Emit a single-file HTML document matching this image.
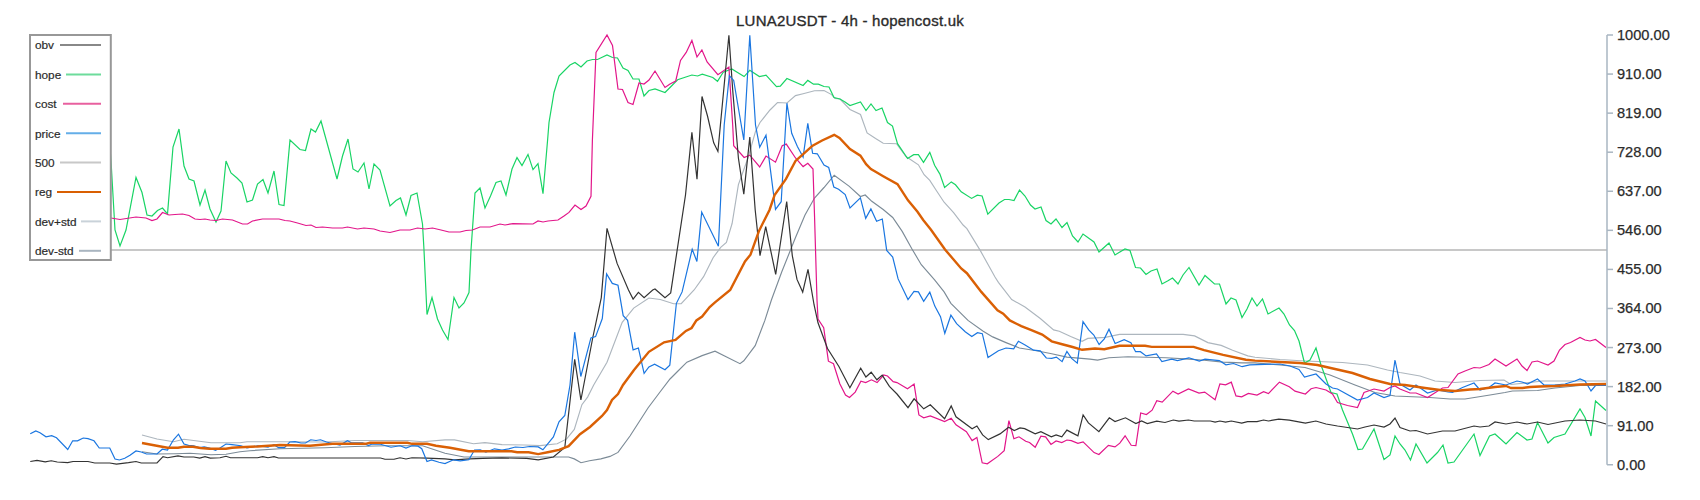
<!DOCTYPE html>
<html><head><meta charset="utf-8"><title>LUNA2USDT - 4h - hopencost.uk</title>
<style>html,body{margin:0;padding:0;background:#fff;width:1700px;height:500px;overflow:hidden}svg{display:block}</style>
</head><body>
<svg width="1700" height="500" viewBox="0 0 1700 500">
<rect width="1700" height="500" fill="#fff"/>
<line x1="30" y1="250" x2="1607" y2="250" stroke="#c8c8c8" stroke-width="2"/>
<g fill="none" stroke-linejoin="miter">
<polyline points="142,435 157,439 173.5,441.7 184,439.3 211,442.75 240,442.75 247,441.7 280,441.7 325,442 355,440.5 407.5,440.5 422.5,441.7 445,439.9 454.5,439.9 473.5,443.7 484.9,442.7 502,444.6 524.8,445 540,445.6 557.2,443.7 566.7,438.9 574.3,429.4 581.9,404.7 587.6,397.1 593.7,385 607,362.2 622.2,322.3 633.7,308.1 648.9,298 660.3,299.5 673.6,303.7 681.2,303.7 694.1,290 703.6,276.7 713.1,257.7 720.7,247.3 726.4,242.5 732.1,223.5 738.4,184.6 748,158 755.5,131.4 760,122.5 770,110 777.5,102.5 787,103 795.5,95.6 803.1,93.7 814.5,90.8 824,90.5 831.6,94.6 835,98.4 840,99 850,109.5 860.5,114.5 867.1,132.9 875.6,138.6 883.2,143.3 896.5,143.7 906,156.6 918.4,164.8 924.1,174.7 929.8,180.4 936.5,190.8 944.1,202.2 953.6,212.7 963.1,225 966.9,228.6 980.2,250.4 995,277 998.4,282.4 1011.7,299.5 1025,307.1 1040.3,318.5 1053.6,329.9 1059.3,331.2 1070.7,336.5 1082.1,341.3 1087.8,338.4 1105.2,337.4 1119.5,334.4 1183.2,334.4 1194.6,335.9 1207.9,342.6 1221.2,345.4 1232.6,350.2 1247.8,355.9 1255,357.2 1280,359.5 1305,361 1342.5,362.5 1367.5,365 1387.5,370 1400,372.5 1420,376 1435,381 1455,382.5 1480,380.5 1504,380 1511,384.5 1542.5,381 1606,381" stroke="#adb6be" stroke-width="1.15"/>
<polyline points="142,451.75 157,454 175,453.7 190,453.25 211,454.75 226,454.3 240,451.75 250,450.7 280,448.75 325,447.7 355,446.5 385,445.75 422.5,445.75 445,453.2 464,457 568.6,457 574.3,458.9 581,462.7 589.5,460.8 600.9,458.9 610,456.4 618,452.4 630,436 648,408 660,392 670,379 678,371 686.9,362.2 702.1,355.6 715,351.2 740,363.7 743.8,360.8 755.2,345.6 764.7,320.9 771.4,300 781.8,271.8 795.1,238.5 805,215 814.5,198 824,187.5 834.2,175.2 849,186.1 860.4,196.5 865.2,195 871.8,201.3 883.2,209.5 892.7,217.5 902.2,231.4 911.7,248.5 921.3,264.7 934.6,279.9 944.1,291.9 950.9,303.3 968,320.4 983.2,331.2 992.7,336.9 1006,342.6 1019.4,348 1036.5,350.8 1051.7,353.7 1066.9,357.1 1090,359.1 1097.6,360.1 1109,357.8 1128,356.8 1166,357.8 1188.9,359.1 1204.1,360.2 1223.1,362.1 1242.1,362.9 1255,362.9 1280,365 1305,367.5 1330,375 1355,385 1375,392.5 1395,396 1430,397.5 1450,399 1465,399 1490,395 1505,392.5 1512.5,391 1537.5,390.5 1555,388 1580,385.5 1606,385.5" stroke="#7c8b97" stroke-width="1.15"/>
<polyline points="106,90 111.3,166 115,230 120,246 126,230 136,177.5 142,192.5 147,215 152,216 157.5,210.5 162.5,208 167.5,214 173,147 179,129 184,166 189,179 194,181 200,205 205,190 210,209 216,222 221,211 226,161 231,173 237,178 242,183 247,202 252.5,200 257.5,184 263,179.5 268,193 274,171 279,204.5 284,205.5 290,140 300,149.5 305.5,150.5 311,129 315.5,132 321,121 337,179 342.5,156 348,139 353,169 358,172 364,163 369,189 374,164 380,170 390,206 396,200.5 400.5,198 406,215 411,195.5 417,193 422.5,224 424,250 427,314.5 432,297.5 437.5,319 442.5,330 448,339.5 454,297.5 459,308 464,303 469,292.5 471,250 475,193 480,188 485,208 490.5,196 496,182.5 501,181 506,195 512,169 517,157.6 522,165.6 528,154.4 533,169.6 538,163.6 543,193.6 547.6,140 549,122.5 554,92.5 559,76 570,65 575,62.5 581,67 587,61 592.5,59.5 597.5,59.5 607,55 612.5,57.5 617.5,58 623,68 628,70.5 633,79 639,79 644,96 649,90.5 655,89 665,92.5 670,87.5 677.6,79.8 691.9,75 697.6,76 702.3,74.1 712.8,77.5 717.5,81.3 723.2,72.2 731.8,69 744.1,76.6 749.8,70.3 759.4,76.6 766,75.2 776.5,86.7 780.3,86.1 786.9,78.5 803.1,85.5 807.8,80.4 813.5,84.2 818.3,84.2 824,86.5 829,87 834,97.5 840,99 845,102 850,105.5 860.5,102 866,110.5 871,104 876,110.5 882,108 887.5,122.5 892.5,126 897.5,143.7 907.6,158.5 913.7,154.7 918.4,154.7 923.5,162.3 929.8,152.4 934.6,165.2 939.9,174.1 944.6,187.4 951.3,181.9 955.5,184.8 961.2,191.8 971.6,198.4 977.3,195.2 982.1,196 987.8,214.2 999,203 1004.5,199.5 1009,199.5 1014,200.5 1019.5,190 1025,196 1030.5,205 1035,209 1041,207 1046,220.5 1051,224 1056,219 1062,227.5 1067,222.5 1072.5,236 1078,242 1083,234 1094,242 1099,252 1109,243 1115,255 1119,252.5 1125,249 1130,250.5 1135.5,267.5 1140.5,268 1146,274.5 1151,271 1157,269 1162,284 1167.5,281 1172.5,278 1178,284 1183,275 1189,267.5 1199,285 1205,275.5 1214.5,284 1219.5,284 1226,304 1231,298 1236,300 1242,317.5 1247,309 1252,298 1257,306 1262.5,299 1268,314 1279,308 1284,314 1289.5,325 1294.5,330.5 1299,341 1304.5,363 1310,360 1316,348 1321,365 1331,392.5 1337,394 1342.5,410 1352.5,434 1358,449.5 1362.5,449 1374,429 1384,459.5 1390,455 1395,436 1400,444 1405,450 1410.5,460 1416,444 1427,463 1437.5,452.5 1443,445 1448,463 1454,462 1474,434 1480,455.5 1489.5,436 1495,434 1506,444 1517,432.5 1527,440 1532,439 1537.5,422.5 1548,443 1554,437.5 1565,434 1580,409 1585,417.5 1591,436 1595.5,401 1606,410.5" stroke="#19d465" stroke-width="1.2"/>
<polyline points="100,218 111,218 120,219.5 136,217 146,218 152,220.5 157,219 162.5,212.5 169,215 175,214.5 182.5,214 189,215.5 195,219 200,219.5 205,219 210,220 216,220.5 222.5,219 232.5,220 242.5,224 247.5,224 252.5,221 262.5,219 279,219 285,220.5 290,221 297.5,223 306,225.5 311,225 316,227.5 322.5,227 332.5,228 342.5,228 347.5,227 357.5,229 364,228 374,229 380,231 390,232.5 400,230 410,230 417.5,228 425,229 432.5,228 441,230 449,232 460,232 466,230.5 472.5,230 480,227 490,227 500,224 505,225 513,223.6 533,224 538,221 543,222 548,221 558,220 564,216 569,212.4 575,205 581,209.6 586,206 591,196.4 592.4,140 596,52.5 607,35 612.5,45.5 618,89 622.5,89.5 628,102.5 633,104.5 639,83 644,84 649,80 655,71 665,87.5 670,84 675.7,81 680.5,60.4 686.2,52.4 691.9,40.5 697,57 701.9,50 707.1,62 717.9,74.7 728.9,67.1 732.7,125 733.7,145.7 744.1,157.5 749.8,155.2 759.7,167 766,156.1 775.5,162.2 782.2,145.7 786.3,144.1 795.5,158 803.1,166.6 807.8,163.3 813,169 814.5,215 817,300 818,319 823.7,327.6 828.4,361.2 833.5,363.7 839.8,383.7 845.5,395 849.5,397.4 855.2,392.1 860.9,381.1 865.7,382.6 871.4,379.8 877.1,382.6 883.7,375 887.5,376 893.2,381.7 897,382.6 907.5,388.7 914.1,384.1 918.9,414.9 923.7,417.8 930.3,415.9 944.6,421.6 951.2,418.3 956,424.8 966.4,431.7 972.1,440.6 976.9,437.4 982.2,462.8 987.3,463.8 997.8,456.4 1004.2,450.7 1008.9,420.6 1013.9,438.7 1019,436.8 1025.7,441.2 1029.5,442.5 1035.2,447.2 1040.9,436.2 1045.6,436.8 1051,444.4 1056.1,441 1061.8,442.5 1066.9,440 1071.3,440.6 1077.9,443.4 1083.1,441.9 1094.1,452.6 1098.9,454.5 1108.4,445.3 1115,446.9 1119.8,443.1 1125.1,435.8 1131.2,445.3 1135.9,445.7 1140.7,413 1146.4,414.5 1152.1,410.2 1156.8,400.7 1162.2,402.1 1172.9,391.2 1178.1,394 1188.5,388.9 1199,393.1 1204.7,392.1 1215.1,399.7 1219.9,383.9 1225.6,384.9 1231.3,382.2 1236,395.9 1241.7,396.9 1248.4,393.4 1257,395 1263.6,391.7 1268.4,393.6 1279.4,382.2 1289.3,386.8 1295,391.2 1305.4,394 1311.1,388.7 1316,387.5 1326,390 1332.5,394 1337.5,402.5 1347.5,405.5 1357.5,407.5 1364,392.5 1374,389 1384,391 1390,387.5 1395,386 1400,389 1410,393 1416,393 1427.5,397.5 1442.5,388 1448,387.5 1458,374 1465,371 1474,367.5 1480,368 1489,364.5 1495,359 1506,366 1517,359 1522,366 1527,370.5 1532,362 1537.5,361 1548,365 1554,361 1559.5,350 1565,344.5 1570.5,342.5 1580,337.5 1585,340 1590,341 1595.5,339.5 1606,347.5" stroke="#e2168a" stroke-width="1.2"/>
<polyline points="30.25,461.5 37,460.4 45.25,461.8 51.25,460.75 57.25,462 67.75,462.7 73,461.5 88,461.5 94.75,463 109.75,463 116.5,464.2 128.5,462.7 136,461.5 141.25,463 157,463 163,456.7 167.5,457.75 178,455.8 184,457 193.75,457 199.75,458.2 205,456.7 210.25,458.2 220,457.75 226,456.25 230.5,457.75 257.5,457.75 262.75,456.7 268,457.75 274,456.7 278.5,458 380.5,458 385,459.25 394,459.25 400,457.75 406,459 412,457.75 427,458.2 445,458.9 454.5,459.8 469.7,458.9 483,458.3 502,457.9 526.7,458.3 538.2,459.8 553.4,457 564.8,447.5 574.7,359.4 580.9,400 592.8,337.5 601.3,297.6 607,228.3 617.1,263.4 628.5,290 633.1,299.1 638.4,292.3 644.1,297.6 652.7,290 655,289 665,297.6 670.7,292.9 685.5,195 691.9,132.4 697,179.3 702,96.5 707.5,116 713.7,142.8 717.9,151.4 728.9,35.3 732.7,90 738.4,158 743.8,194.1 749.8,137.1 755.2,210 760,255.6 765.7,226.7 775.7,274.3 786.7,201.5 792.3,255.6 797,279.4 802.7,292.1 808,269.3 814.1,305 818,322.8 827.5,348.5 838.9,366.5 849.9,387.8 860.7,368.1 865.9,377 871.2,372.2 876.9,379.8 882.2,375.1 889.4,386.4 897,394 908,407.7 914.1,398.8 923.7,408.8 930.3,404.8 944.6,418.7 951.2,406 956,416.8 972.1,428.8 976.9,426 982.6,434.9 988.3,439.6 1000,433.9 1008.6,427.3 1014.3,430.5 1020,427.9 1024.7,428.6 1035.2,433.9 1040.9,431.7 1051.3,436.8 1056.1,434.9 1061.8,436.8 1066.9,430.1 1077.9,435.8 1083.1,414.9 1088.4,422.9 1098.9,431.7 1109.3,417.8 1115,421.6 1125.5,417.8 1135.9,423.5 1141.6,421 1147.3,423.5 1156.8,421.2 1165,422.5 1173.3,420 1179,421.2 1188.5,420 1194.2,421 1210.4,421 1215.1,422.1 1219.9,421 1225.6,422.1 1231.3,421 1241.7,423.1 1247.5,421.6 1257,421.6 1263.6,420 1268.4,421 1278.8,419.1 1289.3,420.2 1305.4,423.1 1315.9,421 1326,424 1337.5,426 1357.5,429 1365,427 1374,425 1384,427 1390,424 1395,418 1400,427.5 1410,431 1416,430.5 1427.5,434 1442.5,431 1455,431 1474,426 1480,427 1489,426 1495,422 1506,424 1517,422 1527,424 1537.5,422 1548,424.5 1565,421 1580,420 1595.5,421 1606,424" stroke="#333333" stroke-width="1.2"/>
<polyline points="30.25,433.75 35.8,431 40,432.7 46,436.75 51.7,435.7 56.5,437.8 67.75,449.5 72.7,440.8 77.5,440.8 83.2,438 88,438.7 94,440.8 99.25,448 109.75,448 115,459 119.5,460 124.75,458.2 130,455.2 136,451 141.25,452 146.5,454 157,454 162.25,449.2 167.5,450 173.5,439.75 178.5,434.2 184,444 188.5,445.4 193.75,445.75 199.75,447.7 204.25,446.8 209.5,448 215.5,450.25 220,448 226,444 232,444.7 241,445.75 247,448 257.5,445.75 268,447.25 274,444.7 278.5,447.7 284.5,447.7 289.75,442 295,441.7 301,443 305.5,443 310.75,439.75 316,440.5 320.5,439.75 326.5,442 332.5,443.5 340,445 347.5,440.8 351.25,442.75 362.5,442.75 368.5,445.5 371.5,444.25 380.5,444.25 391,447.25 400,445.75 406,448 412,445.75 418,446.2 421.75,448.75 427,461.5 431.5,460 439,462.25 445,463.6 453.5,459.8 460.2,460.8 468.8,459.8 474.5,450 480.2,449.8 485.9,452.2 494.4,448.8 502,450 508.7,448.8 515.3,447 523,447.5 529.6,446.5 538.2,446.9 542.9,449.8 553.4,437 559,421.8 564.8,415.5 570,385 574.7,332.2 580.8,376.5 590.9,337.9 595.6,336.6 602.3,318.5 606.6,273.9 612.3,283.4 618,285.3 623.2,315.7 627.6,320.4 633.1,349.9 638.4,348 644.1,373.3 648.9,367 654.6,364.1 665,369.8 669.8,365.1 676.4,303.3 682.1,291.9 692.2,249.2 696.9,261.5 701.7,212.1 718.4,246.3 724.2,125 729.3,75.6 733.7,80.4 743.8,140 749.8,35.3 755.5,125 759.7,147.2 766,135.2 775.5,209.4 781.2,201.7 786.9,103.2 791.7,133.3 797.4,146.6 803.1,157.1 807.8,123.4 812.6,153.3 817.3,153.8 824,165 828.7,167.5 833.8,187 838.6,189.3 845.2,194.6 850,208 860.4,197.9 865.7,218.4 870.9,208.9 876.6,221.3 882.3,219 886.7,250.4 892.7,257.1 898.1,278.9 908,299.5 914,291.3 918.4,291.9 923.7,301.4 929.8,292.2 934.8,306.1 940.5,316.6 944.8,333.3 950.9,315.2 956.6,323.6 965.2,331.8 971.8,336.5 977.5,332.7 982.3,333.7 988,357.5 998.4,350.8 1006,348 1013.7,348.9 1018.4,341.3 1025.1,345.1 1033.6,350.2 1040.3,350.8 1046.3,358 1051.7,358.4 1056.4,357.1 1062.1,361.6 1066.9,351.4 1071.6,358.4 1077.3,363.2 1083,321.7 1088.7,329.9 1093.8,335 1099.1,344.5 1104.3,338.8 1109,329.3 1115.1,343.5 1124.2,339.7 1130.9,342.6 1135.6,351.7 1140.4,351.7 1146.1,355.9 1156.5,354 1161.9,361.6 1171.7,359.1 1177.5,360.6 1188.9,357.8 1199.3,361 1205,359.1 1219.3,360.6 1225.9,364.8 1233.5,363.5 1242.1,366.7 1249.7,364.8 1280,364 1290,366 1299,369.5 1304.5,377 1316,374 1326,384 1332.5,388 1337.5,389 1357.5,400 1367.5,397.5 1374,393 1384,397.5 1390,395.5 1395,360 1400,384 1410,390 1416,385 1427.5,393 1437.5,390 1448,392 1452.5,392.5 1462.5,387.5 1474,383 1480,390 1489,387.5 1495,383 1506,385 1517,381 1522,382 1527.5,384 1537.5,379 1544,385 1554,385 1565,384 1575,381 1580,379 1585,381 1591,391 1595.5,385.5 1606,385.5" stroke="#1a76e0" stroke-width="1.2"/>
<polyline points="142,443 154,445.3 167.5,447.7 178,447.7 184,446.8 193,446.8 200.5,448 209.5,448.75 226,448.75 232,447.7 240,447.25 257.5,446.5 280,445 310,445.75 332.5,443.8 365.5,443.8 370,442.75 407.5,442.75 412,443.8 427,443.8 436,445.75 450,447.7 468.8,451.3 511.5,451.3 517.2,452.2 528.6,452.2 538.2,454.1 547.7,452.2 559,449.8 568.6,446.2 580,434.2 590,427 602,416 607,410 612,400 618,394 623,385 634,370 648.9,351.8 664.1,342.3 675.5,339.8 685.9,330.9 691.6,328 696.4,320.4 702.1,316.6 709.7,307.1 715,302.4 730.2,290 745,261.5 750.5,254.7 759,230.9 769.5,210 774.6,195.1 786,178.9 795.5,160.9 804,153.3 812.6,145.7 822.1,140.5 834.2,134.8 839.5,138 850,149 860.4,155.7 866.1,164.2 870.9,169 875.6,171.8 883.2,176.2 897.5,184.2 908,200.3 917.5,211.7 923.2,220 930.8,229.5 945,249.5 961.2,268.5 966.9,273.2 981.3,291.9 997.5,310.3 1003.2,313.7 1009.8,320.4 1021.3,326.1 1030.8,329.9 1042.2,334.6 1051.7,341.3 1063.1,344.5 1072.6,347 1082.1,349.8 1095,348.5 1104.3,349.2 1119.5,345.8 1145.1,345.8 1151.8,346.9 1193.6,346.9 1204.1,350.2 1223.1,354.9 1245.9,359.7 1255,360.6 1280,362 1300,363 1317.5,365 1335,369 1352.5,373 1370,379 1390,384 1405,385 1425,388 1440,390 1455,391 1470,389.5 1480,389 1495,387 1506,386 1511,388 1522.5,388 1530,387 1540,386.5 1555,386 1580,384.5 1606,384" stroke="#da6005" stroke-width="2.4"/>
</g>
<g stroke="#a9b6c2" stroke-width="1.5" fill="none">
<line x1="1607" y1="35.0" x2="1607" y2="464.75"/>
<line x1="1607" y1="35.00" x2="1613" y2="35.00"/>
<line x1="1607" y1="74.07" x2="1613" y2="74.07"/>
<line x1="1607" y1="113.14" x2="1613" y2="113.14"/>
<line x1="1607" y1="152.20" x2="1613" y2="152.20"/>
<line x1="1607" y1="191.27" x2="1613" y2="191.27"/>
<line x1="1607" y1="230.34" x2="1613" y2="230.34"/>
<line x1="1607" y1="269.41" x2="1613" y2="269.41"/>
<line x1="1607" y1="308.48" x2="1613" y2="308.48"/>
<line x1="1607" y1="347.55" x2="1613" y2="347.55"/>
<line x1="1607" y1="386.61" x2="1613" y2="386.61"/>
<line x1="1607" y1="425.68" x2="1613" y2="425.68"/>
<line x1="1607" y1="464.75" x2="1613" y2="464.75"/>
</g>
<g font-family="Liberation Sans, sans-serif" font-size="14.6" fill="#2b2b2b" stroke="#2b2b2b" stroke-width="0.25">
<text x="1617" y="40.00">1000.00</text>
<text x="1617" y="79.07">910.00</text>
<text x="1617" y="118.14">819.00</text>
<text x="1617" y="157.20">728.00</text>
<text x="1617" y="196.27">637.00</text>
<text x="1617" y="235.34">546.00</text>
<text x="1617" y="274.41">455.00</text>
<text x="1617" y="313.48">364.00</text>
<text x="1617" y="352.55">273.00</text>
<text x="1617" y="391.61">182.00</text>
<text x="1617" y="430.68">91.00</text>
<text x="1617" y="469.75">0.00</text>
</g>
<text x="850" y="25.5" text-anchor="middle" font-family="Liberation Sans, sans-serif" font-size="15" letter-spacing="0.22" fill="#2b2b2b" stroke="#2b2b2b" stroke-width="0.35">LUNA2USDT - 4h - hopencost.uk</text>
<rect x="30" y="35" width="80.8" height="225" fill="#fff" stroke="#989898" stroke-width="2"/>
<g font-family="Liberation Sans, sans-serif" font-size="11.8" fill="#2b2b2b" stroke="#2b2b2b" stroke-width="0.2">
<text x="35" y="49.30">obv</text>
<line x1="60" y1="45.00" x2="101" y2="45.00" stroke="#888888" stroke-width="2"/>
<text x="35" y="78.70">hope</text>
<line x1="66" y1="74.40" x2="101" y2="74.40" stroke="#6ddc9b" stroke-width="2"/>
<text x="35" y="108.10">cost</text>
<line x1="63" y1="103.80" x2="101" y2="103.80" stroke="#e8609f" stroke-width="2"/>
<text x="35" y="137.50">price</text>
<line x1="66" y1="133.20" x2="101" y2="133.20" stroke="#64aee8" stroke-width="2"/>
<text x="35" y="166.90">500</text>
<line x1="60" y1="162.60" x2="101" y2="162.60" stroke="#c8c8c8" stroke-width="2"/>
<text x="35" y="196.30">reg</text>
<line x1="57" y1="192.00" x2="101" y2="192.00" stroke="#d95f02" stroke-width="2"/>
<text x="35" y="225.70">dev+std</text>
<line x1="81" y1="221.40" x2="101" y2="221.40" stroke="#c9d2d9" stroke-width="2"/>
<text x="35" y="255.10">dev-std</text>
<line x1="79" y1="250.80" x2="101" y2="250.80" stroke="#a9b5c0" stroke-width="2"/>
</g>
</svg>
</body></html>
